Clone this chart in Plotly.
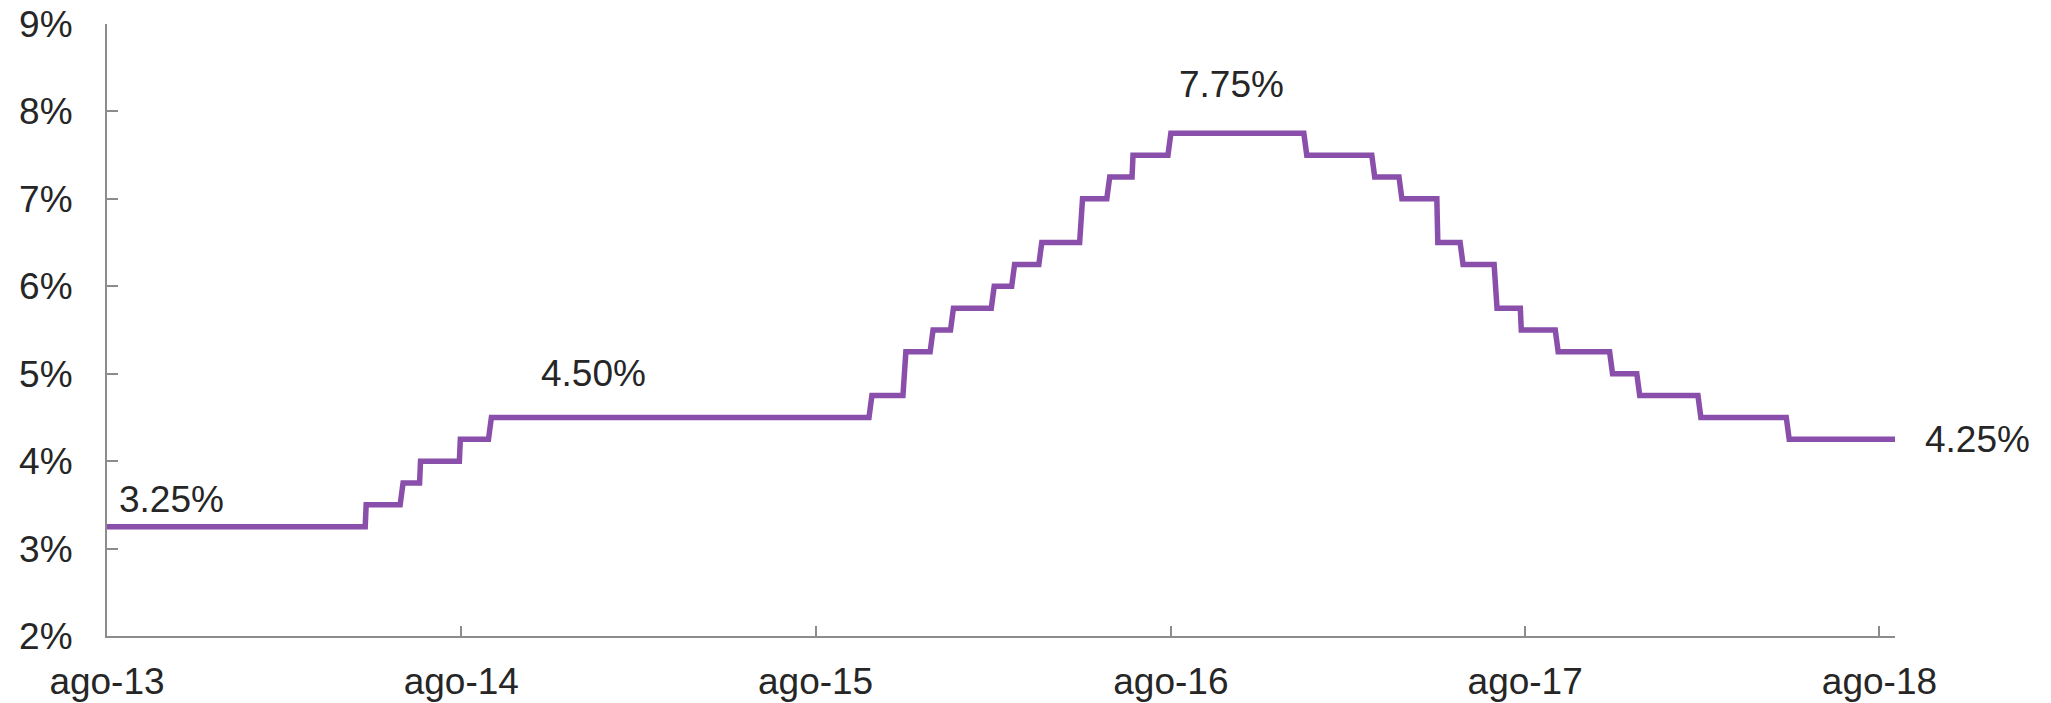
import pandas as pd
import plotly.graph_objects as go

# Policy-rate schedule (effective date of each change, rate in %)
change_dates = [
    "2013-08-01", "2014-04-25", "2014-05-31", "2014-06-20", "2014-07-31",
    "2014-08-31", "2015-09-27", "2015-11-01", "2015-11-28", "2015-12-21",
    "2016-01-31", "2016-02-22", "2016-03-20", "2016-05-01", "2016-05-30",
    "2016-06-23", "2016-07-31", "2016-12-18", "2017-02-25", "2017-03-26",
    "2017-05-03", "2017-05-28", "2017-07-02", "2017-07-28", "2017-09-02",
    "2017-10-29", "2017-11-26", "2018-01-28", "2018-04-28",
]
rates = [
    3.25, 3.50, 3.75, 4.00, 4.25,
    4.50, 4.75, 5.25, 5.50, 5.75,
    6.00, 6.25, 6.50, 7.00, 7.25,
    7.50, 7.75, 7.50, 7.25, 7.00,
    6.50, 6.25, 5.75, 5.50, 5.25,
    5.00, 4.75, 4.50, 4.25,
]
start_date = "2013-08-01"
end_date = "2018-08-17"

tick_dates = ["2013-08-01", "2014-08-01", "2015-08-01", "2016-08-01", "2017-08-01", "2018-08-01"]
tick_labels = ["ago-13", "ago-14", "ago-15", "ago-16", "ago-17", "ago-18"]

# daily (business-day) observations of the rate in effect
obs_dates = pd.bdate_range(start_date, end_date)
sched = pd.Series(rates, index=pd.to_datetime(change_dates))
obs_rates = sched.reindex(sched.index.union(obs_dates)).ffill().reindex(obs_dates)

LINE = "#894FAB"
TEXT = "#262626"
AXIS = "#8c8c8c"
FONT = "Liberation Sans, Arial, Helvetica, sans-serif"

fig = go.Figure()
fig.add_trace(go.Scatter(
    x=obs_dates, y=obs_rates.values, mode="lines",
    line=dict(color=LINE, width=5.5), hoverinfo="skip", showlegend=False,
))

last_x = obs_dates[-1]
last_y = float(obs_rates.values[-1])
peak_y = max(rates)
ann_font = dict(family=FONT, size=37, color=TEXT)
fig.add_annotation(x=obs_dates[0], y=rates[0], text="3.25%", showarrow=False,
                   xanchor="left", yanchor="middle", xshift=10, yshift=27, font=ann_font)
fig.add_annotation(x="2014-12-15", y=4.5, text="4.50%", showarrow=False,
                   xanchor="center", yanchor="middle", yshift=44, font=ann_font)
fig.add_annotation(x="2016-10-02", y=peak_y, text="7.75%", showarrow=False,
                   xanchor="center", yanchor="middle", yshift=49, font=ann_font)
fig.add_annotation(x=last_x, y=last_y, text="4.25%", showarrow=False,
                   xanchor="left", yanchor="middle", xshift=28, yshift=0, font=ann_font)

fig.update_layout(
    width=2051, height=703,
    margin=dict(l=107, r=156, t=24, b=67),
    paper_bgcolor="white", plot_bgcolor="white",
    font=dict(family=FONT, size=37, color=TEXT),
    showlegend=False,
)
fig.update_xaxes(
    range=[start_date, end_date], type="date", automargin=False,
    tickvals=tick_dates, ticktext=tick_labels,
    showgrid=False, zeroline=False,
    showline=True, linecolor=AXIS, linewidth=2,
    ticks="inside", ticklen=10, tickwidth=1.5, tickcolor=AXIS,
    tickfont=dict(family=FONT, size=37, color=TEXT),
    ticklabelstandoff=12, ticklabeloverflow="allow",
)
fig.update_yaxes(
    range=[2, 9], dtick=1, tick0=2, ticksuffix="%", automargin=False,
    showgrid=False, zeroline=False,
    showline=True, linecolor=AXIS, linewidth=2,
    ticks="inside", ticklen=11, tickwidth=1.5, tickcolor=AXIS,
    tickfont=dict(family=FONT, size=37, color=TEXT),
    ticklabelstandoff=25, ticklabeloverflow="allow",
)

# remove the browser's default 8 px body margin so the figure fills the window
fig.write_html("out.html", config={"displayModeBar": False},
               post_script="document.body.style.margin='0';")
